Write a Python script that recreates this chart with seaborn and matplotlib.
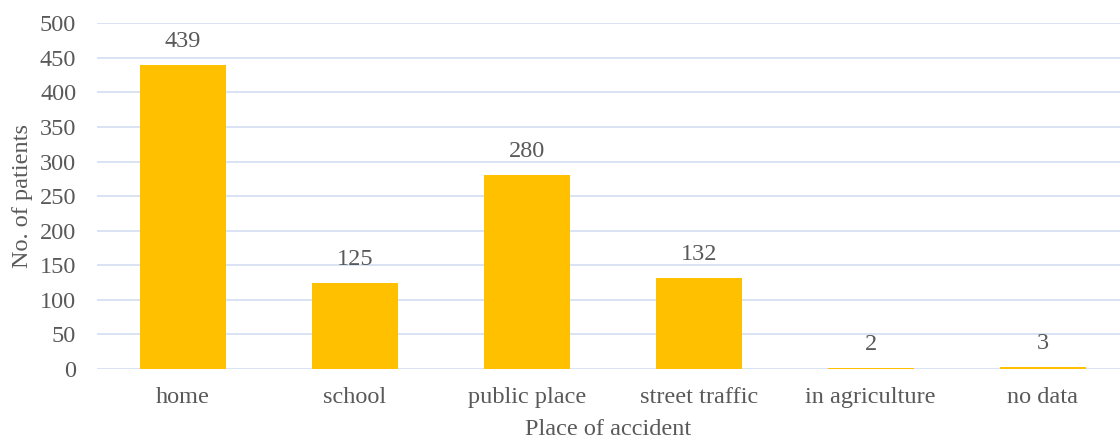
import matplotlib
matplotlib.use("Agg")
import matplotlib.pyplot as plt
import seaborn as sns
import pandas as pd

categories = ["home", "school", "public place", "street traffic", "in agriculture", "no data"]
patients = [439, 125, 280, 132, 2, 3]
y_ticks = [0, 50, 100, 150, 200, 250, 300, 350, 400, 450, 500]

df = pd.DataFrame({"place": categories, "patients": patients})

sns.set_theme(style="white")
plt.rcParams["font.family"] = ["Liberation Serif", "DejaVu Serif"]
text_color = "#595959"
fs = 17.5

fig = plt.figure(figsize=(11.2, 4.41), dpi=100)
ax = fig.add_axes([0.0866, 0.1633, 1.0 - 0.0866, 0.9472 - 0.1633])

sns.barplot(data=df, x="place", y="patients", color="#FFC000", saturation=1,
            width=0.5, ax=ax, zorder=3, linewidth=0)

ax.set_ylim(0, 500)
ax.set_yticks(y_ticks)
ax.set_xlim(-0.5, 5.45)
ax.yaxis.grid(True, color="#D6E0F2", linewidth=1.3, zorder=0)
ax.xaxis.grid(False)
for s in ax.spines.values():
    s.set_visible(False)
ax.tick_params(axis="both", length=0, labelsize=fs, labelcolor=text_color)
ax.tick_params(axis="x", pad=13)
ax.tick_params(axis="y", pad=15)

for i, v in enumerate(patients):
    ax.text(i, v + 26, str(v), ha="center", va="baseline", fontsize=fs, color=text_color)

ax.set_xlabel("Place of accident", fontsize=fs, color=text_color, labelpad=8)
ax.set_ylabel("No. of patients", fontsize=fs, color=text_color, labelpad=5)

fig.savefig("out.png", dpi=100)
